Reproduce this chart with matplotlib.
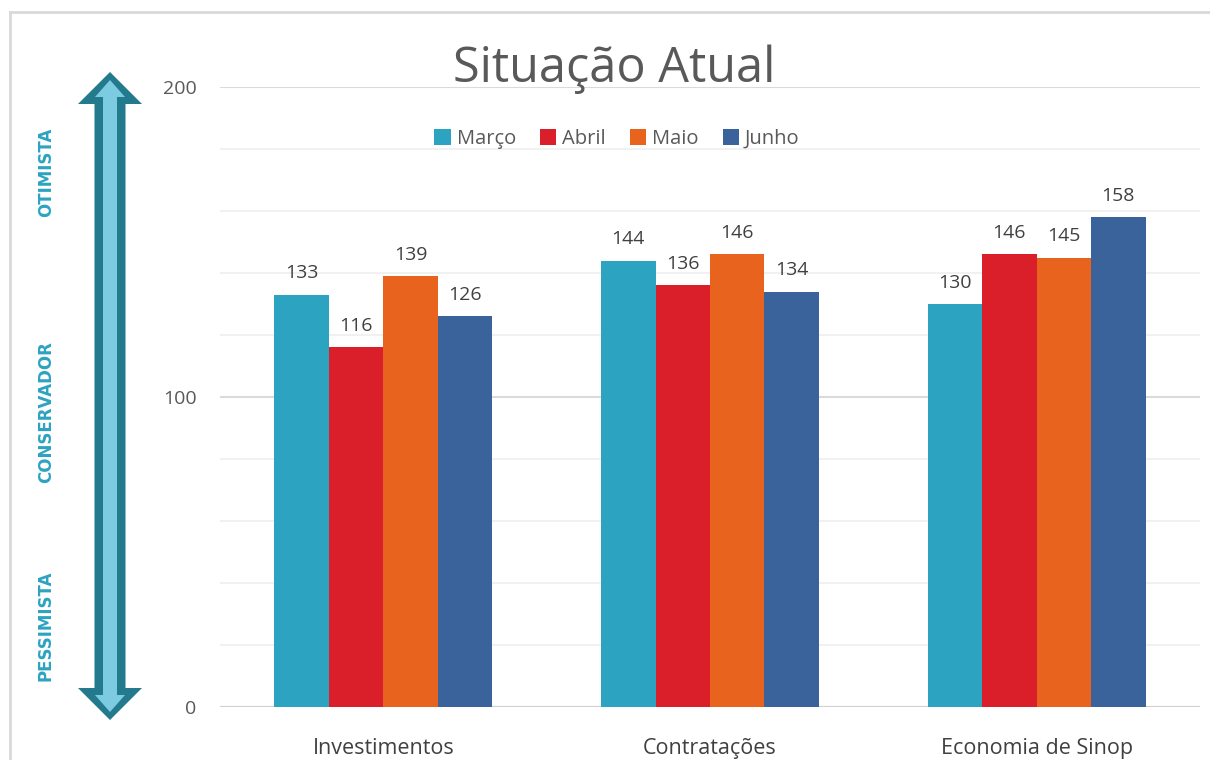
import matplotlib
matplotlib.use("Agg")
import matplotlib.pyplot as plt
import numpy as np
from matplotlib.patches import Polygon
from matplotlib.lines import Line2D

categories = ["Investimentos", "Contratações", "Economia de Sinop"]
series_names = ["Março", "Abril", "Maio", "Junho"]
marco = [133, 144, 130]
abril = [116, 136, 146]
maio = [139, 146, 145]
junho = [126, 134, 158]
colors = ["#2CA3C1", "#DA1F2A", "#E8641E", "#3A639C"]
ytick_vals = [0, 100, 200]
scale_labels = ["OTIMISTA", "CONSERVADOR", "PESSIMISTA"]

plt.rcParams['font.family'] = ['Open Sans', 'DejaVu Sans']

W, H = 1210, 760
fig = plt.figure(figsize=(W/100, H/100), dpi=100)

def fx(px):
    return px / W

def fy(py):
    return 1 - py / H

ax = fig.add_axes([fx(220), fy(707), fx(1200) - fx(220), fy(87) - fy(707)])
x = np.arange(len(categories))
bw = 0.667 / 4
all_series = [marco, abril, maio, junho]
for i, (name, vals, c) in enumerate(zip(series_names, all_series, colors)):
    pos = x + (i - 1.5) * bw
    bars = ax.bar(pos, vals, bw, color=c, label=name, zorder=3)
    for b, v in zip(bars, vals):
        ax.text(b.get_x() + b.get_width()/2, v + 4, str(v), ha='center', va='bottom',
                fontsize=14, color='#404040')

ax.set_xlim(-0.5, 2.5)
ax.set_ylim(0, 200)
ax.set_yticks(ytick_vals)
ax.set_yticks(np.arange(0, 201, 20), minor=True)
ax.yaxis.grid(True, which='minor', color='#EFEFEF', linewidth=1.2, zorder=0)
ax.yaxis.grid(True, which='major', color='#DADADA', linewidth=1.5, zorder=0)
ax.tick_params(axis='y', which='both', length=0, pad=17, labelsize=14, labelcolor='#595959')
ax.set_xticks(x)
ax.set_xticklabels(categories, fontsize=15.5, color='#404040')
ax.tick_params(axis='x', length=0, pad=22)
for s in ax.spines.values():
    s.set_visible(False)
ax.axhline(0, color='#D0D0D0', linewidth=1.5, zorder=2)

leg = ax.legend(loc='center', bbox_to_anchor=(fx(617 - 220) / (fx(1200) - fx(220)), (fy(139) - fy(707)) / (fy(87) - fy(707))),
                ncol=4, frameon=False, fontsize=14.5, handlelength=0.8, handleheight=0.8,
                handletextpad=0.3, columnspacing=1.2, labelcolor='#595959')

fig.text(fx(614), fy(69), "Situação Atual", ha='center', va='center', fontsize=35, color='#595959')

# border
fig.add_artist(Line2D([fx(10), fx(10)], [fy(12), fy(760)], transform=fig.transFigure, color='#D9D9D9', lw=2))
fig.add_artist(Line2D([fx(10), fx(1210)], [fy(12), fy(12)], transform=fig.transFigure, color='#D9D9D9', lw=2))

# arrow
def arrow_pts(cx, half_shaft, half_head, top, head_top_base, bottom, head_bot_base):
    pts = [(cx, top), (cx + half_head, head_top_base), (cx + half_shaft, head_top_base),
           (cx + half_shaft, head_bot_base), (cx + half_head, head_bot_base), (cx, bottom),
           (cx - half_head, head_bot_base), (cx - half_shaft, head_bot_base),
           (cx - half_shaft, head_top_base), (cx - half_head, head_top_base)]
    return [(fx(a), fy(b)) for a, b in pts]

fig.add_artist(Polygon(arrow_pts(110, 15.5, 32, 72, 104, 720, 688), closed=True,
                       transform=fig.transFigure, facecolor='#237A8C', edgecolor='none'))
fig.add_artist(Polygon(arrow_pts(110, 7, 15, 80, 97, 712, 695), closed=True,
                       transform=fig.transFigure, facecolor='#7CCBE0', edgecolor='none'))

for lbl, yc in zip(scale_labels, [172, 412, 626]):
    fig.text(fx(46), fy(yc), lbl, rotation=90, ha='center', va='center', fontsize=12,
             fontweight='heavy', color='#2CA3C1', family=['Liberation Sans Narrow', 'DejaVu Sans'])

fig.savefig("out.png", dpi=100, facecolor='white')
